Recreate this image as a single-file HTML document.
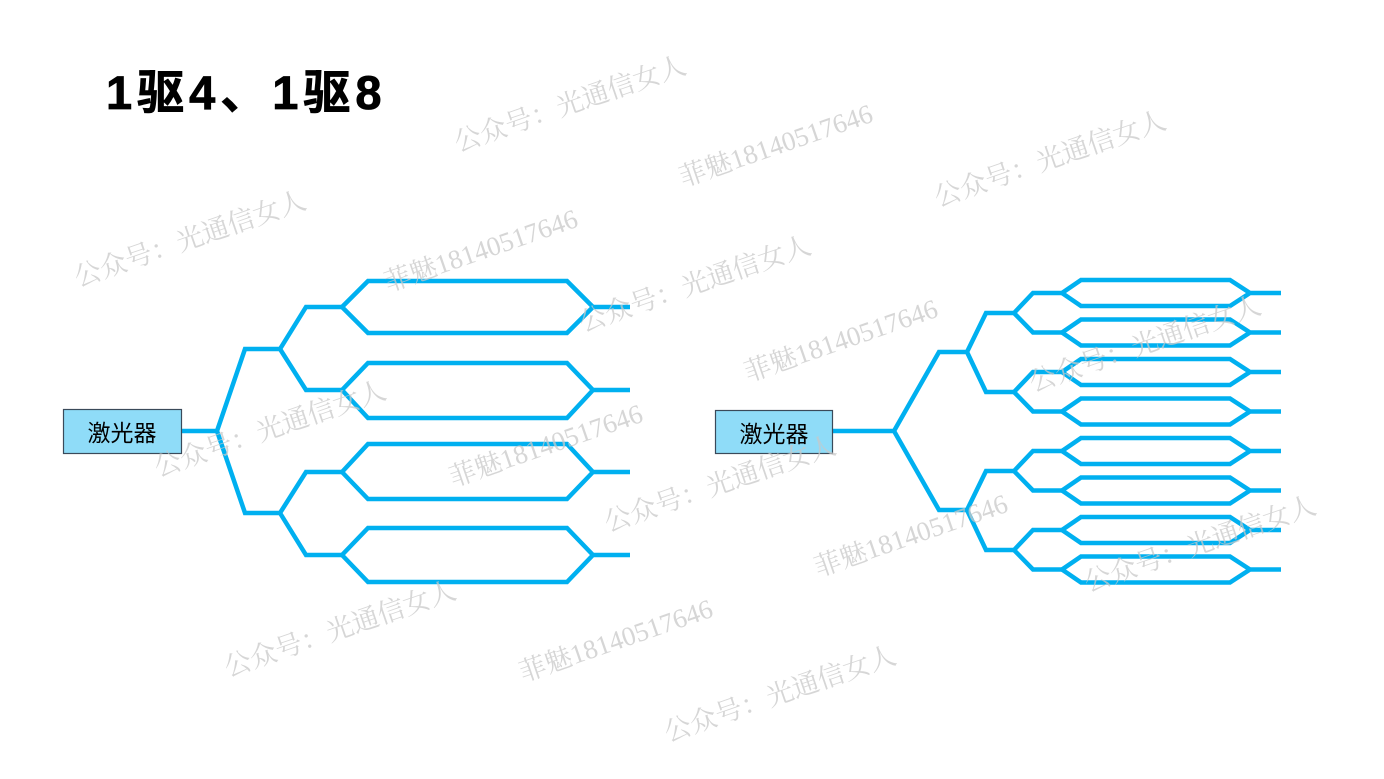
<!DOCTYPE html>
<html><head><meta charset="utf-8"><style>
html,body{margin:0;padding:0;background:#fff;}
svg{display:block;}
</style></head><body>
<svg width="1384" height="779" viewBox="0 0 1384 779" xmlns="http://www.w3.org/2000/svg">
<rect width="1384" height="779" fill="#fff"/>
<text x="106" y="109" font-family="Liberation Sans, Noto Sans CJK SC, sans-serif" font-weight="bold" font-size="47" letter-spacing="5" fill="#000" stroke="#000" stroke-width="0.8">1驱4、1驱8</text>

<g fill="none" stroke="#00b0f0" stroke-width="4.5" stroke-linejoin="miter">
<path d="M182 431 H217 L245 349 H280 L306 307 H342 M280 349 L306 390 H342 M217 431 L245 513 H280 L306 472 H342 M280 513 L306 555 H342"/>
<path d="M342 307 L368 281 H567 L593 307 H630 M342 307 L368 333 H567 L593 307"/>
<path d="M342 390 L368 363 H567 L593 390 H630 M342 390 L368 418 H567 L593 390"/>
<path d="M342 472 L368 444 H567 L593 472 H630 M342 472 L368 499 H567 L593 472"/>
<path d="M342 555 L368 528 H567 L593 555 H630 M342 555 L368 582 H567 L593 555"/>
<path d="M833 431 H894 L939 352 H967 L986 313 H1014 L1033 293 H1062 M1014 313 L1033 332.5 H1062 M967 352 L986 392 H1014 L1033 372 H1062 M1014 392 L1033 411.5 H1062 M894 431 L939 510 H967 L986 471 H1014 L1033 451 H1062 M1014 471 L1033 490.5 H1062 M967 510 L986 550 H1014 L1033 530 H1062 M1014 550 L1033 569.5 H1062"/>
<path d="M1062 293 L1081 280 H1230 L1250 293 H1281 M1062 293 L1081 306 H1230 L1250 293"/>
<path d="M1062 332.5 L1081 319.5 H1230 L1250 332.5 H1281 M1062 332.5 L1081 345.5 H1230 L1250 332.5"/>
<path d="M1062 372 L1081 359 H1230 L1250 372 H1281 M1062 372 L1081 385 H1230 L1250 372"/>
<path d="M1062 411.5 L1081 398.5 H1230 L1250 411.5 H1281 M1062 411.5 L1081 424.5 H1230 L1250 411.5"/>
<path d="M1062 451 L1081 438 H1230 L1250 451 H1281 M1062 451 L1081 464 H1230 L1250 451"/>
<path d="M1062 490.5 L1081 477.5 H1230 L1250 490.5 H1281 M1062 490.5 L1081 503.5 H1230 L1250 490.5"/>
<path d="M1062 530 L1081 517 H1230 L1250 530 H1281 M1062 530 L1081 543 H1230 L1250 530"/>
<path d="M1062 569.5 L1081 556.5 H1230 L1250 569.5 H1281 M1062 569.5 L1081 582.5 H1230 L1250 569.5"/>
</g>

<rect x="63.5" y="409.5" width="118" height="44" fill="#8fdcf8" stroke="#3a4a5a" stroke-width="1.2"/>
<text x="122" y="441" text-anchor="middle" font-family="Liberation Sans, Noto Sans CJK SC, sans-serif" font-size="23" fill="#000">激光器</text>
<rect x="715.5" y="410.5" width="117" height="43" fill="#8fdcf8" stroke="#3a4a5a" stroke-width="1.2"/>
<text x="774" y="442" text-anchor="middle" font-family="Liberation Sans, Noto Sans CJK SC, sans-serif" font-size="23" fill="#000">激光器</text>

<g font-family="Liberation Serif, Noto Serif CJK SC, serif" font-size="27" fill="#c8c8c8" fill-opacity="0.75">
<text transform="translate(458,152) rotate(-19)">公众号：光通信女人</text>
<text transform="translate(78,287) rotate(-19)">公众号：光通信女人</text>
<text transform="translate(158,477) rotate(-19)">公众号：光通信女人</text>
<text transform="translate(583,332) rotate(-19)">公众号：光通信女人</text>
<text transform="translate(938,207) rotate(-19)">公众号：光通信女人</text>
<text transform="translate(608,532) rotate(-19)">公众号：光通信女人</text>
<text transform="translate(1033,392) rotate(-19)">公众号：光通信女人</text>
<text transform="translate(1088,592) rotate(-19)">公众号：光通信女人</text>
<text transform="translate(228,677) rotate(-19)">公众号：光通信女人</text>
<text transform="translate(668,742) rotate(-19)">公众号：光通信女人</text>
<text transform="translate(683,187) rotate(-19)">菲魅18140517646</text>
<text transform="translate(388,292) rotate(-19)">菲魅18140517646</text>
<text transform="translate(748,382) rotate(-19)">菲魅18140517646</text>
<text transform="translate(453,487) rotate(-19)">菲魅18140517646</text>
<text transform="translate(818,577) rotate(-19)">菲魅18140517646</text>
<text transform="translate(523,682) rotate(-19)">菲魅18140517646</text>
</g>
</svg>
</body></html>
